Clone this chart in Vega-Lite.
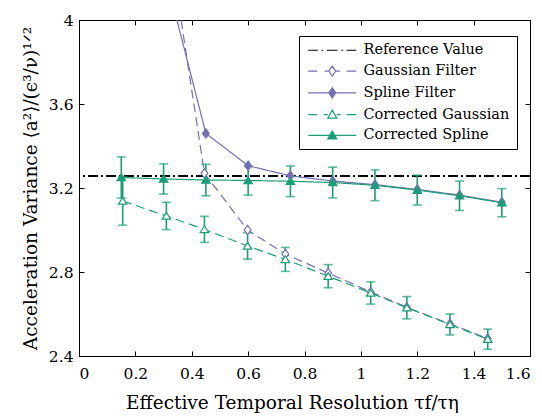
{
  "$schema": "https://vega.github.io/schema/vega-lite/v6.json",
  "width": 451,
  "height": 336,
  "autosize": {"type": "none"},
  "padding": {"left": 79, "top": 20, "right": 12, "bottom": 60},
  "background": "white",
  "data": {
    "values": [
      {"series": "Gaussian Filter", "x": 0.31, "y": 4.46},
      {"series": "Gaussian Filter", "x": 0.445, "y": 3.27},
      {"series": "Gaussian Filter", "x": 0.598, "y": 3.0},
      {"series": "Gaussian Filter", "x": 0.732, "y": 2.886},
      {"series": "Gaussian Filter", "x": 0.884, "y": 2.795},
      {"series": "Gaussian Filter", "x": 1.035, "y": 2.705},
      {"series": "Gaussian Filter", "x": 1.163, "y": 2.632},
      {"series": "Gaussian Filter", "x": 1.316, "y": 2.553},
      {"series": "Gaussian Filter", "x": 1.45, "y": 2.483},
      {"series": "Spline Filter", "x": 0.3, "y": 4.25},
      {"series": "Spline Filter", "x": 0.45, "y": 3.46},
      {"series": "Spline Filter", "x": 0.6, "y": 3.306},
      {"series": "Spline Filter", "x": 0.75, "y": 3.258},
      {"series": "Spline Filter", "x": 0.9, "y": 3.233},
      {"series": "Spline Filter", "x": 1.05, "y": 3.216},
      {"series": "Spline Filter", "x": 1.2, "y": 3.193},
      {"series": "Spline Filter", "x": 1.35, "y": 3.166},
      {"series": "Spline Filter", "x": 1.5, "y": 3.132},
      {"series": "Corrected Gaussian", "x": 0.155, "y": 3.138, "err": 0.115},
      {"series": "Corrected Gaussian", "x": 0.31, "y": 3.067, "err": 0.065},
      {"series": "Corrected Gaussian", "x": 0.445, "y": 3.003, "err": 0.062},
      {"series": "Corrected Gaussian", "x": 0.598, "y": 2.924, "err": 0.063},
      {"series": "Corrected Gaussian", "x": 0.732, "y": 2.86, "err": 0.057},
      {"series": "Corrected Gaussian", "x": 0.884, "y": 2.78, "err": 0.055},
      {"series": "Corrected Gaussian", "x": 1.035, "y": 2.7, "err": 0.053},
      {"series": "Corrected Gaussian", "x": 1.163, "y": 2.63, "err": 0.053},
      {"series": "Corrected Gaussian", "x": 1.316, "y": 2.55, "err": 0.05},
      {"series": "Corrected Gaussian", "x": 1.45, "y": 2.48, "err": 0.048},
      {"series": "Corrected Spline", "x": 0.15, "y": 3.25, "err": 0.098},
      {"series": "Corrected Spline", "x": 0.3, "y": 3.243, "err": 0.072},
      {"series": "Corrected Spline", "x": 0.45, "y": 3.238, "err": 0.075},
      {"series": "Corrected Spline", "x": 0.6, "y": 3.236, "err": 0.07},
      {"series": "Corrected Spline", "x": 0.75, "y": 3.232, "err": 0.073},
      {"series": "Corrected Spline", "x": 0.9, "y": 3.226, "err": 0.073},
      {"series": "Corrected Spline", "x": 1.05, "y": 3.213, "err": 0.073},
      {"series": "Corrected Spline", "x": 1.2, "y": 3.19, "err": 0.071},
      {"series": "Corrected Spline", "x": 1.35, "y": 3.163, "err": 0.07},
      {"series": "Corrected Spline", "x": 1.5, "y": 3.13, "err": 0.067}
    ]
  },
  "layer": [
    {
      "mark": {"type": "point", "filled": false, "opacity": 1},
      "transform": [{"filter": "false"}],
      "encoding": {
        "shape": {
          "field": "series", "type": "nominal",
          "scale": {
            "domain": ["Reference Value", "Gaussian Filter", "Spline Filter", "Corrected Gaussian", "Corrected Spline"],
            "range": [
              "M-1,0H0.92M1.64,0H1.98M2.74,0H4.86M5.62,0H5.96M6.68,0H8.6",
              "M-1,0H0.8M2.26,0H3.08M4.52,0H5.34M6.68,0H8.6M3.8,-1L4.5,0L3.8,1L3.1,0Z",
              "M-1,0H8.6M3.8,-1L4.5,0L3.8,1L3.1,0Z",
              "M-1,0H0.8M2.1,0H2.9M4.7,0H5.5M6.68,0H8.6M3.8,-0.9L4.7,0.7L2.9,0.7Z",
              "M-1,0H8.6M3.8,-0.9L4.7,0.7L2.9,0.7Z"
            ]
          }
        }
      }
    },
    {
      "mark": {"type": "rule", "stroke": "black", "strokeWidth": 1.2, "strokeDash": [10, 3, 2, 3]},
      "encoding": {
        "y": {"datum": 3.255, "type": "quantitative", "scale": {"domain": [2.4, 4], "nice": false, "zero": false}, "axis": null}
      }
    },
    {
      "mark": {"type": "line", "clip": true, "strokeWidth": 1.2},
      "encoding": {
        "x": {
          "field": "x", "type": "quantitative",
          "scale": {"domain": [0, 1.6], "nice": false, "zero": false},
          "axis": {
            "orient": "bottom",
            "values": [0, 0.2, 0.4, 0.6, 0.8, 1, 1.2, 1.4, 1.6],
            "format": "~g",
            "title": "Effective Temporal Resolution τf/τη",
            "titleFont": "DejaVu Serif",
            "titleFontWeight": "normal",
            "titleFontSize": 18.5,
            "titlePadding": 12,
            "titleX": 213,
            "labelPadding": 15
          }
        },
        "y": {
          "field": "y", "type": "quantitative",
          "scale": {"domain": [2.4, 4], "nice": false, "zero": false},
          "axis": {
            "orient": "left",
            "values": [2.4, 2.8, 3.2, 3.6, 4],
            "format": "~g",
            "title": "Acceleration Variance ⟨a²⟩/(ϵ³/ν)¹ᐟ²",
            "titleFont": "DejaVu Serif",
            "titleFontWeight": "normal",
            "titleFontSize": 18.5,
            "titlePadding": 8,
            "labelPadding": 11
          }
        },
        "stroke": {
          "field": "series", "type": "nominal",
          "scale": {
            "domain": ["Reference Value", "Gaussian Filter", "Spline Filter", "Corrected Gaussian", "Corrected Spline"],
            "range": ["black", "#7570b3", "#7570b3", "#1b9e77", "#1b9e77"]
          },
          "legend": {
            "orient": "none",
            "legendX": 220,
            "legendY": 16,
            "title": null,
            "symbolSize": 100,
            "symbolOffset": 0,
            "symbolStrokeWidth": 1.2,
            "symbolOpacity": 1,
            "symbolDash": [],
            "labelFont": "DejaVu Serif",
            "labelFontSize": 14.5,
            "labelColor": "black",
            "labelOffset": 43,
            "labelLimit": 0,
            "rowPadding": 5.8,
            "padding": 7,
            "strokeColor": "black",
            "fillColor": "white"
          }
        },
        "strokeDash": {
          "field": "series", "type": "nominal",
          "scale": {
            "domain": ["Gaussian Filter", "Spline Filter", "Corrected Gaussian", "Corrected Spline"],
            "range": [[9, 5], [1, 0], [9, 5], [1, 0]]
          },
          "legend": null
        }
      }
    },
    {
      "mark": {
        "type": "errorbar",
        "color": "#1b9e77",
        "ticks": {"size": 9, "thickness": 1.6, "color": "#1b9e77"},
        "rule": {"strokeWidth": 1.6, "color": "#1b9e77"}
      },
      "encoding": {
        "x": {"field": "x", "type": "quantitative", "axis": null},
        "y": {"field": "y", "type": "quantitative", "axis": null},
        "yError": {"field": "err"}
      },
      "transform": [{"filter": "isValid(datum.err)"}]
    },
    {
      "mark": {"type": "point", "strokeWidth": 1.2, "opacity": 1, "size": 88, "shape": "M0,-1L0.72,0L0,1L-0.72,0Z"},
      "transform": [{"filter": "datum.y <= 4 && !isValid(datum.err)"}],
      "encoding": {
        "x": {
          "field": "x", "type": "quantitative",
          "axis": {"orient": "top", "labels": false, "title": null, "values": [0, 0.2, 0.4, 0.6, 0.8, 1, 1.2, 1.4, 1.6]}
        },
        "y": {
          "field": "y", "type": "quantitative",
          "axis": {"orient": "right", "labels": false, "title": null, "values": [2.4, 2.8, 3.2, 3.6, 4]}
        },
        "stroke": {"field": "series", "type": "nominal"},
        "fill": {
          "field": "series", "type": "nominal",
          "scale": {
            "domain": ["Reference Value", "Gaussian Filter", "Spline Filter", "Corrected Gaussian", "Corrected Spline"],
            "range": ["white", "white", "#7570b3", "white", "#1b9e77"]
          }
        }
      }
    },
    {
      "mark": {"type": "point", "strokeWidth": 1.2, "opacity": 1, "size": 72, "shape": "M0,-0.85L1,0.75L-1,0.75Z"},
      "transform": [{"filter": "isValid(datum.err)"}],
      "encoding": {
        "x": {"field": "x", "type": "quantitative", "axis": null},
        "y": {"field": "y", "type": "quantitative", "axis": null},
        "stroke": {"field": "series", "type": "nominal"},
        "fill": {"field": "series", "type": "nominal"}
      }
    }
  ],
  "config": {
    "view": {"stroke": "black", "strokeWidth": 1},
    "font": "DejaVu Serif",
    "axis": {
      "grid": false,
      "domainColor": "black",
      "domainWidth": 1,
      "tickColor": "black",
      "tickWidth": 1,
      "tickSize": -5,
      "labelFont": "DejaVu Serif",
      "labelFontSize": 15.5,
      "labelColor": "black",
      "titleFont": "DejaVu Serif",
      "titleFontSize": 16,
      "titleFontWeight": "normal",
      "titleColor": "black"
    }
  }
}
